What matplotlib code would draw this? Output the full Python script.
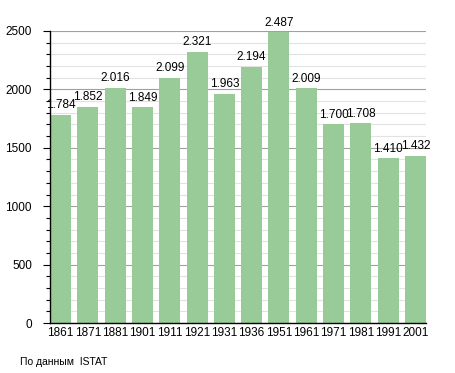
import matplotlib.pyplot as plt
import numpy as np

years = ["1861", "1871", "1881", "1901", "1911", "1921", "1931",
         "1936", "1951", "1961", "1971", "1981", "1991", "2001"]
population = [1784, 1852, 2016, 1849, 2099, 2321, 1963,
              2194, 2487, 2009, 1700, 1708, 1410, 1432]
labels = ["1.784", "1.852", "2.016", "1.849", "2.099", "2.321", "1.963",
          "2.194", "2.487", "2.009", "1.700", "1.708", "1.410", "1.432"]

plt.rcParams['font.family'] = ['Liberation Sans', 'DejaVu Sans']

fig = plt.figure(figsize=(4.55, 3.73), dpi=100)
ax = fig.add_axes([0.11, 0.134, 0.826, 0.783])

x = np.arange(len(years))
w = 0.77
ax.bar(x, population, width=w, color="#98cb98", zorder=2)
for xi, v, lab in zip(x, population, labels):
    ax.text(xi, v + 30, lab, ha="center", va="bottom", fontsize=8.5, zorder=3)

ax.set_xlim(-w / 2, len(years) - 1 + w / 2)
ax.set_ylim(0, 2500)
ax.set_xticks(x)
ax.set_xticklabels(years, fontsize=8.5)
ax.set_yticks(np.arange(0, 2501, 500))
ax.set_yticks(np.arange(0, 2501, 100), minor=True)
ax.tick_params(axis="y", labelsize=8.5, length=5, width=0.8, pad=8)
ax.tick_params(axis="y", which="minor", length=3, width=0.8)
ax.tick_params(axis="x", length=0, pad=3)

ax.grid(axis="y", which="major", color="#a0a0a0", lw=0.8, zorder=0)
ax.grid(axis="y", which="minor", color="#e2e2e2", lw=0.8, zorder=0)
ax.set_axisbelow(True)

for s in ["top", "right"]:
    ax.spines[s].set_visible(False)
ax.spines["left"].set_linewidth(1)
ax.spines["bottom"].set_linewidth(1)

fig.text(20 / 455, 1 - 362 / 373, "По данным  ISTAT", fontsize=7.5, va="center")

fig.savefig("out.png", dpi=100)
